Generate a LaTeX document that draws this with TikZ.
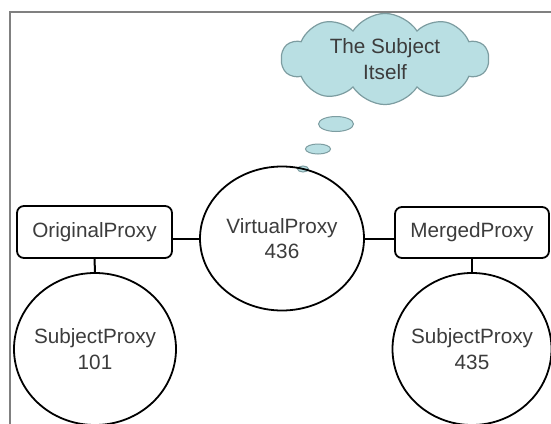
\documentclass[tikz,border=0pt]{standalone}
\usepackage{fontspec}
\setmainfont{Liberation Sans}
\usetikzlibrary{shapes.geometric,shapes.symbols}
\definecolor{txtgray}{HTML}{3C3C3C}
\definecolor{cloudfill}{HTML}{B9DFE3}
\definecolor{cloudline}{HTML}{7D9DA1}
\definecolor{framegray}{HTML}{808080}
\tikzset{
  lbl/.style={font=\fontsize{20.7}{25.5}\selectfont, text=txtgray, align=center},
  ell/.style={lbl, ellipse, draw=black, line width=1.8pt, inner xsep=-14pt, inner ysep=-10pt},
  boxnode/.style={lbl, draw=black, line width=1.8pt, rounded corners=7pt, inner sep=0pt},
  conn/.style={draw=black, line width=2pt},
  bubble/.style={ellipse, fill=cloudfill, draw=cloudline, line width=1pt, inner sep=0pt},
}
\begin{document}
\begin{tikzpicture}[x=1pt,y=-1pt]
\useasboundingbox (0,0) rectangle (551,423);
\fill[white] (0,0) rectangle (551,423);
% frame
\draw[framegray, line width=2.5pt] (10,430) -- (10,12) -- (560,12);
% thought cloud
\node[cloud, cloud puffs=10, cloud puff arc=115, aspect=2.3, fill=cloudfill, draw=cloudline,
      line width=1.2pt, minimum width=207pt, minimum height=91pt, inner sep=0pt, lbl]
      (cloud) at (385,59) {The Subject\\Itself};
\node[bubble, minimum width=35pt, minimum height=15pt] (b1) at (336,124) {};
\node[bubble, minimum width=25pt, minimum height=10pt] (b2) at (318,149) {};
\node[bubble, minimum width=11pt, minimum height=6pt] (b3) at (303,169) {};
% nodes
\node[ell, minimum width=164pt, minimum height=144pt] (virt) at (282,238.5) {VirtualProxy\\436};
\node[boxnode, minimum width=155pt, minimum height=52pt] (orig) at (94.5,232) {OriginalProxy};
\node[boxnode, minimum width=154pt, minimum height=51pt] (merged) at (472,232.5) {MergedProxy};
\node[ell, minimum width=162pt, minimum height=152pt] (sub1) at (95,349) {SubjectProxy\\101};
\node[ell, minimum width=159pt, minimum height=152pt] (sub2) at (472,349) {SubjectProxy\\435};
% connectors
\draw[conn] (virt.west) -- (virt.west -| orig.east);
\draw[conn] (virt.east) -- (virt.east -| merged.west);
\draw[conn] (orig.south) -- (sub1.north);
\draw[conn] (merged.south) -- (sub2.north);
\end{tikzpicture}
\end{document}
